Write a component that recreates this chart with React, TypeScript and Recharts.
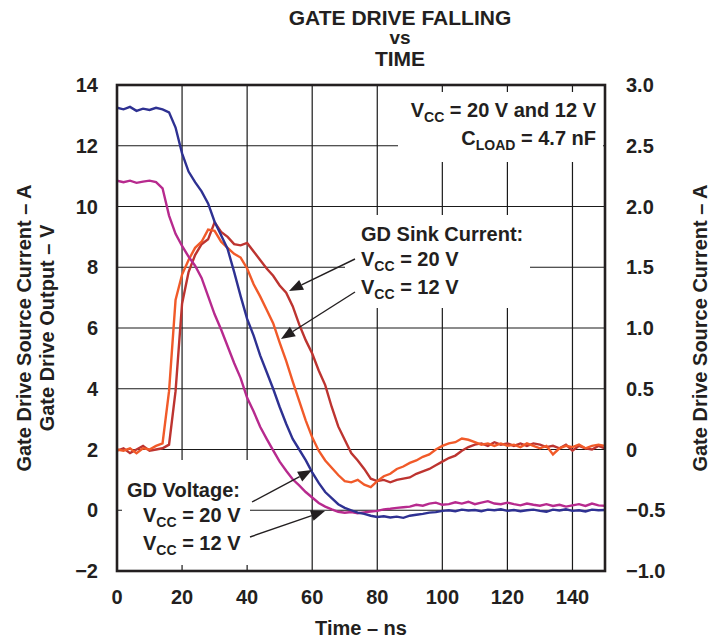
import React from "react";
import {
  LineChart,
  Line,
  XAxis,
  YAxis,
  CartesianGrid,
} from "recharts";

// sampling grid, ns (every 2 ns from 0 to 150)
const TIME_NS = Array.from({ length: 76 }, (_, i) => i * 2);

// GD voltage, VCC = 20 V (left axis, V)
const GD_V_20 = [
  13.25, 13.2, 13.28, 13.15, 13.22, 13.18, 13.25, 13.2, 13.1, 12.6,
  11.75, 11.15, 10.8, 10.5, 10.1, 9.5, 9.05, 8.6, 7.85, 7.05,
  6.3, 5.75, 5.1, 4.55, 4.0, 3.4, 2.85, 2.35, 2.0, 1.65,
  1.25, 0.9, 0.6, 0.4, 0.2, 0.08, 0.0, -0.08, -0.12, -0.18,
  -0.22, -0.2, -0.24, -0.21, -0.25, -0.18, -0.15, -0.12, -0.08, -0.06,
  -0.02, 0.0, -0.03, 0.02, -0.01, 0.01, -0.03, 0.02, 0.0, 0.03,
  -0.02, 0.01, -0.03, 0.0, 0.02, -0.02, -0.05, 0.02, -0.01, 0.03,
  -0.02, 0.0, -0.04, 0.02, 0.0, 0.01,
];

// GD voltage, VCC = 12 V (left axis, V)
const GD_V_12 = [
  10.85, 10.8, 10.85, 10.78, 10.82, 10.85, 10.8, 10.6, 9.7, 9.1,
  8.7, 8.35, 8.05, 7.65, 7.05, 6.45, 5.95, 5.4, 4.85, 4.35,
  3.7, 3.25, 2.75, 2.35, 1.97, 1.6, 1.3, 1.02, 0.82, 0.6,
  0.42, 0.24, 0.12, 0.03, -0.05, -0.08, -0.06, -0.1, -0.07, -0.04,
  -0.02, 0.03, 0.05, 0.08, 0.1, 0.12, 0.18, 0.15, 0.22, 0.25,
  0.18, 0.2, 0.26, 0.22, 0.28, 0.2, 0.25, 0.3, 0.22, 0.2,
  0.25, 0.2, 0.16, 0.22, 0.18, 0.15, 0.2, 0.14, 0.18, 0.12,
  0.16, 0.2, 0.14, 0.22, 0.16, 0.15,
];

// GD sink current, VCC = 20 V (right axis, A)
const SINK_A_20 = [
  -0.01, 0.01, -0.03, 0.0, 0.03, -0.01, 0.0, 0.01, 0.04, 0.48,
  1.2, 1.46, 1.6, 1.69, 1.73, 1.87, 1.79, 1.75, 1.69, 1.68,
  1.7, 1.63, 1.56, 1.49, 1.43, 1.35, 1.29, 1.18, 1.03, 0.9,
  0.79, 0.65, 0.53, 0.35, 0.19, 0.08, -0.03, -0.09, -0.16, -0.24,
  -0.26, -0.25, -0.27, -0.25, -0.24, -0.23, -0.2, -0.18, -0.16, -0.13,
  -0.1, -0.07, -0.05, -0.01, 0.02, 0.04, 0.05, 0.03, 0.06, 0.04,
  0.05, 0.03, 0.05, 0.03, 0.05, 0.04, 0.02, 0.03, 0.01, 0.04,
  -0.01, 0.03, 0.01, 0.0, 0.03, 0.01,
];

// GD sink current, VCC = 12 V (right axis, A)
const SINK_A_12 = [
  0.0, -0.01, 0.01, -0.03, 0.01, 0.0, 0.03, 0.05, 0.48, 1.23,
  1.44, 1.56, 1.66, 1.71, 1.81, 1.8, 1.71, 1.66, 1.61, 1.58,
  1.49, 1.36, 1.26, 1.15, 1.04, 0.88, 0.73, 0.56, 0.4, 0.24,
  0.1, -0.01, -0.09, -0.15, -0.21, -0.26, -0.27, -0.25, -0.29, -0.31,
  -0.26, -0.22, -0.2, -0.16, -0.14, -0.11, -0.09, -0.06, -0.04, 0.0,
  0.03, 0.05, 0.06, 0.09, 0.08, 0.06, 0.04, 0.05, 0.03, 0.05,
  0.03, 0.04, 0.02, 0.05, 0.03, 0.01, 0.03, -0.04, 0.01, 0.03,
  0.02, 0.04, 0.01, 0.03, 0.04, 0.03,
];

const X_TICKS = [0, 20, 40, 60, 80, 100, 120, 140];
const LEFT_TICKS = [-2, 0, 2, 4, 6, 8, 10, 12, 14];
const RIGHT_TICKS = [-1, -0.5, 0, 0.5, 1, 1.5, 2, 2.5, 3];

const data = TIME_NS.map((t, i) => ({
  t,
  v20: GD_V_20[i],
  v12: GD_V_12[i],
  i20: SINK_A_20[i],
  i12: SINK_A_12[i],
}));

const FONT = "'Liberation Sans', Arial, Helvetica, sans-serif";
const INK = "#231f20";
const tickStyle = { fontSize: 20, fontWeight: 700, fill: INK, fontFamily: FONT };

const minus = (s: string) => s.replace("-", "\u2212");

// little helper for the annotation arrows
function Arrow({ x1, y1, x2, y2 }: { x1: number; y1: number; x2: number; y2: number }) {
  const a = Math.atan2(y2 - y1, x2 - x1);
  const len = 14;
  const hw = 5.5;
  const bx = x2 - len * Math.cos(a);
  const by = y2 - len * Math.sin(a);
  const px = -Math.sin(a) * hw;
  const py = Math.cos(a) * hw;
  return (
    <g>
      <line x1={x1} y1={y1} x2={bx} y2={by} stroke={INK} strokeWidth={1.4} />
      <polygon
        points={`${x2},${y2} ${bx + px},${by + py} ${bx - px},${by - py}`}
        fill={INK}
      />
    </g>
  );
}

function Vcc({ x, y, value, anchor = "start" }: { x: number; y: number; value: string; anchor?: string }) {
  return (
    <text x={x} y={y} textAnchor={anchor as any}>
      <tspan>V</tspan>
      <tspan fontSize={14} dy={5}>CC</tspan>
      <tspan dy={-5}>{value}</tspan>
    </text>
  );
}

function Overlay() {
  return (
    <svg
      width={720}
      height={640}
      style={{ position: "absolute", left: 0, top: 0, pointerEvents: "none" }}
      fontFamily={FONT}
      fontWeight={700}
      fill={INK}
    >
      {/* title */}
      <text x={400} y={25} textAnchor="middle" fontSize={21}>GATE DRIVE FALLING</text>
      <text x={400} y={44} textAnchor="middle" fontSize={19}>vs</text>
      <text x={400} y={66} textAnchor="middle" fontSize={21}>TIME</text>

      {/* axis titles */}
      <text x={361} y={635} textAnchor="middle" fontSize={20}>Time – ns</text>
      <text transform="translate(31,328) rotate(-90)" textAnchor="middle" fontSize={20}>
        Gate Drive Source Current – A
      </text>
      <text transform="translate(54,328) rotate(-90)" textAnchor="middle" fontSize={20}>
        Gate Drive Output – V
      </text>
      <text transform="translate(707,328) rotate(-90)" textAnchor="middle" fontSize={20}>
        Gate Drive Source Current – A
      </text>

      {/* label backgrounds hide the grid */}
      <rect x={398} y={92} width={205} height={70} fill="#fff" />
      <rect x={345} y={215} width={185} height={93} fill="#fff" />
      <rect x={122} y={460} width={128} height={105} fill="#fff" />

      <g fontSize={20}>
        <Vcc x={596} y={117} value=" = 20 V and 12 V" anchor="end" />
        <text x={596} y={145} textAnchor="end">
          <tspan>C</tspan>
          <tspan fontSize={14} dy={5}>LOAD</tspan>
          <tspan dy={-5}> = 4.7 nF</tspan>
        </text>

        <text x={361} y={241}>GD Sink Current:</text>
        <Vcc x={361} y={266} value=" = 20 V" />
        <Vcc x={361} y={294} value=" = 12 V" />

        <text x={127} y={497}>GD Voltage:</text>
        <Vcc x={143} y={522} value=" = 20 V" />
        <Vcc x={143} y={550} value=" = 12 V" />
      </g>

      <Arrow x1={355} y1={259} x2={289} y2={291} />
      <Arrow x1={355} y1={292} x2={281} y2={339} />
      <Arrow x1={252} y1={502} x2={312} y2={470} />
      <Arrow x1={250} y1={537} x2={325} y2={511} />

      {/* plot frame */}
      <rect x={117} y={85} width={488} height={486} fill="none" stroke={INK} strokeWidth={2.6} />
    </svg>
  );
}

export default function App() {
  return (
    <div
      style={{
        position: "absolute",
        left: 0,
        top: 0,
        width: 720,
        height: 640,
        background: "#fff",
        fontFamily: FONT,
      }}
    >
      <LineChart
        width={720}
        height={640}
        data={data}
        margin={{ top: 85, right: 55, bottom: 39, left: 57 }}
      >
        <CartesianGrid yAxisId="left" stroke="#1a1a1a" strokeWidth={1.2} />
        <XAxis
          dataKey="t"
          type="number"
          domain={[0, 150]}
          ticks={X_TICKS}
          tick={tickStyle}
          tickLine={false}
          axisLine={false}
          tickSize={0}
          tickMargin={19}
          height={30}
          allowDataOverflow
        />
        <YAxis
          yAxisId="left"
          domain={[-2, 14]}
          ticks={LEFT_TICKS}
          tick={tickStyle}
          tickFormatter={(v) => minus(String(v))}
          tickLine={false}
          axisLine={false}
          tickSize={0}
          tickMargin={19}
          width={60}
          allowDataOverflow
        />
        <YAxis
          yAxisId="right"
          orientation="right"
          domain={[-1, 3]}
          ticks={RIGHT_TICKS}
          tick={tickStyle}
          tickFormatter={(v) => (v === 0 ? "0" : minus(Number(v).toFixed(1)))}
          tickLine={false}
          axisLine={false}
          tickSize={0}
          tickMargin={21}
          width={60}
          allowDataOverflow
        />
        <Line yAxisId="right" dataKey="i20" stroke="#BD3430" strokeWidth={2.4} dot={false} isAnimationActive={false} />
        <Line yAxisId="right" dataKey="i12" stroke="#F15A29" strokeWidth={2.4} dot={false} isAnimationActive={false} />
        <Line yAxisId="left" dataKey="v12" stroke="#B72A8E" strokeWidth={2.4} dot={false} isAnimationActive={false} />
        <Line yAxisId="left" dataKey="v20" stroke="#2E3192" strokeWidth={2.4} dot={false} isAnimationActive={false} />
      </LineChart>
      <Overlay />
    </div>
  );
}
